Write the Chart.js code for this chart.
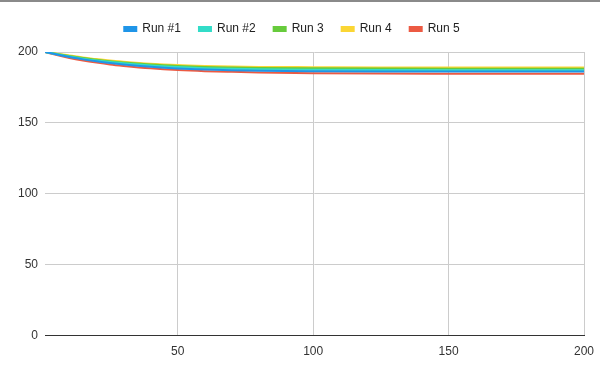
<!DOCTYPE html>
<html>
<head>
<meta charset="utf-8">
<script src="https://cdn.jsdelivr.net/npm/chart.js@4"></script>
<style>
  html, body { margin: 0; padding: 0; background: #fff; }
  #wrap { width: 600px; height: 366px; border-top: 2px solid #8a8a8a; }
</style>
</head>
<body>
<div id="wrap"><canvas id="runChart" width="600" height="366"></canvas></div>
<script>
const steps = [1, 5, 10, 15, 20, 25, 30, 40, 50, 60, 70, 80, 100, 125, 150, 200];

// series values
const run1 = [200, 198.4, 196.4, 194.8, 193.4, 192.2, 191.2, 189.6, 188.4, 187.6, 187.1, 186.8, 186.5, 186.3, 186.3, 186.2];
const run2 = [200, 198.6, 196.8, 195.3, 194.0, 192.9, 192.0, 190.5, 189.4, 188.6, 188.1, 187.8, 187.5, 187.3, 187.2, 187.2];
const run3 = [200, 198.8, 197.2, 195.8, 194.6, 193.5, 192.6, 191.2, 190.2, 189.5, 189.1, 188.8, 188.5, 188.3, 188.2, 188.2];
const run4 = [200, 199.0, 197.5, 196.2, 195.0, 194.0, 193.2, 191.8, 190.8, 190.2, 189.8, 189.5, 189.3, 189.1, 189.1, 189.0];
const run5 = [200, 198.0, 195.8, 194.0, 192.5, 191.2, 190.2, 188.5, 187.3, 186.5, 186.0, 185.6, 185.1, 184.8, 184.7, 184.6];

const seriesNames = ['Run #1', 'Run #2', 'Run 3', 'Run 4', 'Run 5'];
const seriesColors = ['#1f95e8', '#32dcc8', '#67cb3c', '#fbd634', '#ec5a43'];

// tick labels
const xTicks = [50, 100, 150, 200];
const yTicks = [0, 50, 100, 150, 200];

const allRuns = [run1, run2, run3, run4, run5];

// extra room between legend and plot
const legendGap = {
    id: 'legendGap',
    beforeInit(chart) {
        const origFit = chart.legend.fit;
        chart.legend.fit = function () {
            origFit.call(this);
            this.height += 7;
        };
    }
};

const ctx = document.getElementById('runChart').getContext('2d');
const runChart = new Chart(ctx, {
    type: 'line',
    data: {
        datasets: allRuns.map((vals, i) => ({
            label: seriesNames[i],
            data: steps.map((s, j) => ({ x: s, y: vals[j] })),
            borderColor: seriesColors[i],
            backgroundColor: seriesColors[i],
            borderWidth: 2,
            pointRadius: 0,
            cubicInterpolationMode: 'monotone',
            fill: false
        }))
    },
    options: {
        responsive: false,
        animation: false,
        layout: { padding: { top: 3, right: 16, bottom: 0, left: 0 } },
        plugins: {
            legend: {
                position: 'top',
                labels: {
                    boxWidth: 12,
                    boxHeight: 4,
                    padding: 18,
                    color: '#222',
                    font: { family: 'Liberation Sans, Arial, sans-serif', size: 12 }
                }
            },
            tooltip: { enabled: false }
        },
        scales: {
            x: {
                type: 'linear',
                min: 1,
                max: 200,
                afterBuildTicks: axis => { axis.ticks = xTicks.map(v => ({ value: v })); },
                afterFit: axis => { axis.paddingRight = 0; },
                grid: { color: '#cccccc', drawTicks: false },
                border: { color: '#333', width: 1 },
                ticks: {
                    padding: 9,
                    maxRotation: 0,
                    color: '#333',
                    font: { family: 'Liberation Sans, Arial, sans-serif', size: 12 }
                }
            },
            y: {
                min: 0,
                max: 200,
                afterBuildTicks: axis => { axis.ticks = yTicks.map(v => ({ value: v })); },
                afterFit: axis => { axis.width = 45; },
                grid: { color: '#cccccc', drawTicks: false },
                border: { display: false },
                ticks: {
                    padding: 7,
                    color: '#333',
                    font: { family: 'Liberation Sans, Arial, sans-serif', size: 12 }
                }
            }
        }
    },
    plugins: [legendGap]
});
</script>
</body>
</html>
